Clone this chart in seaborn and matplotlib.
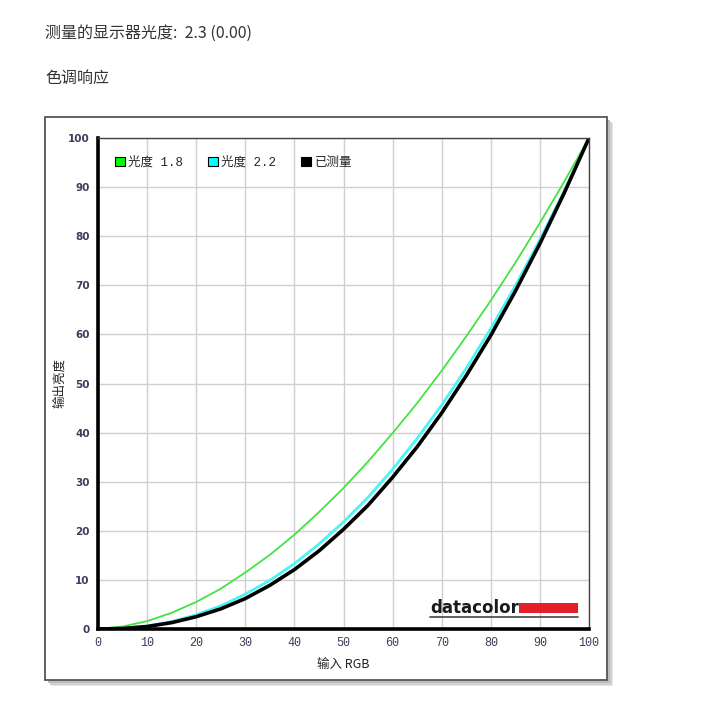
import matplotlib
matplotlib.use('Agg')
import matplotlib.pyplot as plt
import matplotlib.patches as mpatches
import seaborn as sns
import pandas as pd

# Valores (entrada RGB vs. luminancia de salida)
entrada_rgb = [0, 5, 10, 15, 20, 25, 30, 35, 40, 45, 50, 55, 60, 65, 70, 75, 80, 85, 90, 95, 100]
gamma_18 = [0, 0.5, 1.6, 3.3, 5.5, 8.2, 11.5, 15.1, 19.2, 23.8, 28.7, 34.1, 39.9, 46.0, 52.6, 59.6, 66.9, 74.6, 82.7, 91.2, 100]
gamma_22 = [0, 0.15, 0.6, 1.5, 2.9, 4.7, 7.1, 9.9, 13.3, 17.3, 21.8, 26.8, 32.5, 38.8, 45.6, 53.1, 61.2, 69.9, 79.3, 89.3, 100]
medido = [0, 0.1, 0.5, 1.3, 2.5, 4.1, 6.2, 8.9, 12.1, 15.9, 20.3, 25.2, 30.9, 37.1, 44.0, 51.6, 59.8, 68.8, 78.5, 88.9, 100]

series = ['光度 1.8', '光度 2.2', '已测量']
colores = ['#44e344', '#4cf4f4', '#000000']
grosores = [1.3, 2.0, 2.6]
colores_leyenda = ['#00ff00', '#00ffff', '#000000']
ticks = [0, 10, 20, 30, 40, 50, 60, 70, 80, 90, 100]

titulo = '测量的显示器光度:  2.3 (0.00)'
subtitulo = '色调响应'

sns.set_theme(style='white')
plt.rcParams['font.family'] = ['Noto Sans CJK SC', 'DejaVu Sans']

df = pd.DataFrame({'x': entrada_rgb * 3,
                   'y': gamma_18 + gamma_22 + medido,
                   'serie': [series[0]] * len(entrada_rgb) + [series[1]] * len(entrada_rgb) + [series[2]] * len(entrada_rgb)})

fig = plt.figure(figsize=(7.2, 7.17), dpi=100)

# Textos de cabecera
fig.text(45 / 720, 1 - 33 / 717, titulo, fontsize=11.5, color='#333333', va='center', ha='left')
fig.text(45 / 720, 1 - 78 / 717, subtitulo, fontsize=11.5, color='#333333', va='center', ha='left')

# Marco con sombra (difuminada)
for i, gris in enumerate(['#e6e6e6', '#d0d0d0', '#bdbdbd']):
    d = 6 - i * 1.5
    fig.patches.append(mpatches.Rectangle(((45 + d) / 720, 1 - (680 + d) / 717), 562 / 720, 563 / 717,
                                          transform=fig.transFigure, facecolor=gris, edgecolor='none', zorder=0))
marco = mpatches.Rectangle((45 / 720, 1 - 680 / 717), 562 / 720, 563 / 717,
                           transform=fig.transFigure, facecolor='white', edgecolor='#555555', linewidth=1.3, zorder=1)
fig.patches.append(marco)

ax = fig.add_axes([98 / 720, 1 - 629 / 717, 491 / 720, 491 / 717])
ax.set_zorder(2)

for serie, color, lw in zip(series, colores, grosores):
    sns.lineplot(data=df[df['serie'] == serie], x='x', y='y', color=color, linewidth=lw, ax=ax, legend=False)

ax.set_xlim(0, 100)
ax.set_ylim(0, 100)
ax.set_xticks(ticks)
ax.set_yticks(ticks)
ax.grid(True, color='#cfcfcf', linewidth=1)
ax.set_axisbelow(True)

for lado in ['top', 'right']:
    ax.spines[lado].set_color('#444444')
    ax.spines[lado].set_linewidth(1)
for lado in ['left', 'bottom']:
    ax.spines[lado].set_color('black')
    ax.spines[lado].set_linewidth(2.6)

ax.tick_params(axis='both', direction='out', length=4, width=1, color='black', pad=2)
for lab in ax.get_xticklabels():
    lab.set_fontfamily(['Liberation Mono', 'DejaVu Sans Mono'])
    lab.set_fontsize(8.5)
    lab.set_color('#3c3c5c')
for lab in ax.get_yticklabels():
    lab.set_fontfamily(['DejaVu Sans'])
    lab.set_fontsize(7.5)
    lab.set_fontweight('bold')
    lab.set_color('#3c3c5c')

ax.set_xlabel('输入 RGB', fontsize=9, color='#222222', labelpad=6,
              fontfamily=['Noto Sans CJK SC', 'Liberation Mono'])
ax.set_ylabel('输出亮度', fontsize=9, color='#222222', labelpad=1)

# Leyenda
manejadores = [mpatches.Patch(facecolor=c, edgecolor='black', linewidth=0.8) for c in colores_leyenda]
leg = ax.legend(manejadores, series, loc='upper left', bbox_to_anchor=(0.012, 0.985), ncol=3,
                frameon=False, handlelength=0.75, handleheight=0.75, handletextpad=0.3,
                columnspacing=2.0, prop={'family': ['Liberation Mono', 'Noto Sans CJK SC'], 'size': 9})

# Logotipo datacolor
ax.text(0.676, 0.032, 'datacolor', transform=ax.transAxes, fontsize=12, fontweight='bold',
        color='#1a1a1a', fontfamily=['DejaVu Sans'], ha='left', va='baseline', zorder=5)
ax.add_patch(mpatches.Rectangle((0.857, 0.032), 0.12, 0.02, transform=ax.transAxes,
                                facecolor='#e3202a', edgecolor='none', zorder=5))
ax.plot([0.676, 0.977], [0.024, 0.024], transform=ax.transAxes, color='#444444', linewidth=1.2, zorder=5)

fig.savefig('out.png', dpi=100)
